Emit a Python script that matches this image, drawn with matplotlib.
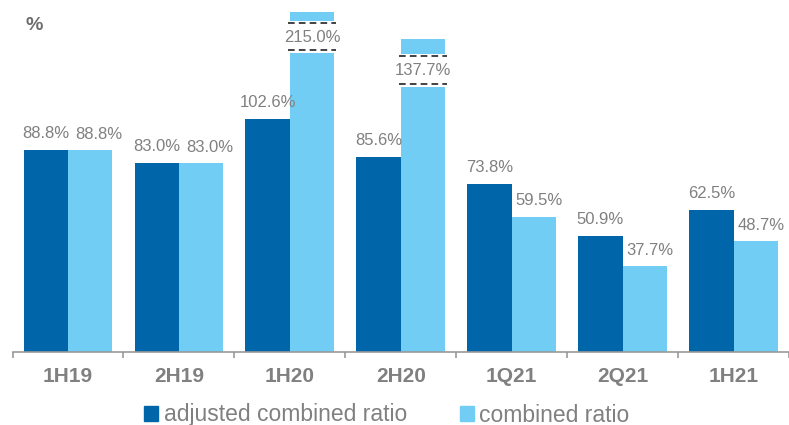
import numpy as np
import matplotlib
matplotlib.use("Agg")
import matplotlib.pyplot as plt
from matplotlib.patches import Patch

plt.rcParams['font.family'] = ['Liberation Sans', 'DejaVu Sans']

categories = ['1H19', '2H19', '1H20', '2H20', '1Q21', '2Q21', '1H21']
adjusted = [88.8, 83.0, 102.6, 85.6, 73.8, 50.9, 62.5]
combined = [88.8, 83.0, 215.0, 137.7, 59.5, 37.7, 48.7]

# broken bars on the combined series: index -> (gap bottom, gap top); tall bar capped
cap = 149.5
breaks = {2: (131.4, 145.5), 3: (116.5, 131.0)}

dark = '#0065A9'
light = '#72CDF4'
grey = '#808080'

fig = plt.figure(figsize=(7.89, 4.25), dpi=100)
ax = fig.add_axes([12.5 / 789, 73 / 425, 1 - 12.5 / 789, 352 / 425])

x = np.arange(len(categories))
w = 0.4
comb_drawn = [min(v, cap) for v in combined]
ax.bar(x - w / 2, adjusted, w, color=dark, label='adjusted combined ratio')
ax.bar(x + w / 2, comb_drawn, w, color=light, label='combined ratio')

for i, v in enumerate(adjusted):
    ax.annotate(f'{v:.1f}%', (x[i] - w / 2, v), xytext=(0, 8.7), textcoords='offset points',
                ha='center', va='baseline', fontsize=12, color=grey)

for i, v in enumerate(combined):
    if i in breaks:
        lo, hi = breaks[i]
        ax.bar(x[i] + w / 2, hi - lo, w + 0.01, bottom=lo, color='white', zorder=3)
        for yy in (lo + 1.2, hi - 1.0):
            ax.hlines(yy, x[i] - 0.02, x[i] + w + 0.02,
                      colors='#222222', linestyles=(0, (4, 2.5)), lw=1.2, zorder=4)
        ax.text(x[i] + w / 2, (lo + hi) / 2, f'{v:.1f}%', ha='center', va='center',
                fontsize=12, color=grey, zorder=5)
    else:
        dx = 6 if v == adjusted[i] else 3.6
        ax.annotate(f'{v:.1f}%', (x[i] + w / 2, v), xytext=(dx, 8.2), textcoords='offset points',
                    ha='center', va='baseline', fontsize=12, color=grey)

ax.set_xlim(-0.5, len(categories) - 0.5)
ax.set_ylim(0, 352 / 2.275)
ax.set_yticks([])
for s in ['left', 'right', 'top']:
    ax.spines[s].set_visible(False)
ax.spines['bottom'].set_color('#999999')
ax.spines['bottom'].set_linewidth(1.2)

ax.set_xticks(x)
ax.set_xticklabels(categories, fontsize=15, fontweight='bold', color=grey)
ax.tick_params(axis='x', which='major', length=0, pad=11)
ax.set_xticks(np.arange(-0.5, len(categories)), minor=True)
ax.tick_params(axis='x', which='minor', length=4.5, width=1.2, color='#999999', direction='out')

fig.text(25 / 789, 1 - 25 / 425, '%', fontsize=14, fontweight='bold', color='#6d6d6d',
         va='center', ha='left')

handles = [Patch(color=dark), Patch(color=light)]
fig.legend(handles, ['adjusted combined ratio', 'combined ratio'], loc='center',
           bbox_to_anchor=(387 / 789, 1 - 415 / 425), ncol=2, frameon=False,
           fontsize=16.5, labelcolor=grey, handlelength=0.6, handleheight=0.6,
           handletextpad=0.25, columnspacing=2.3, borderaxespad=0)

fig.savefig('out.png', dpi=100)
